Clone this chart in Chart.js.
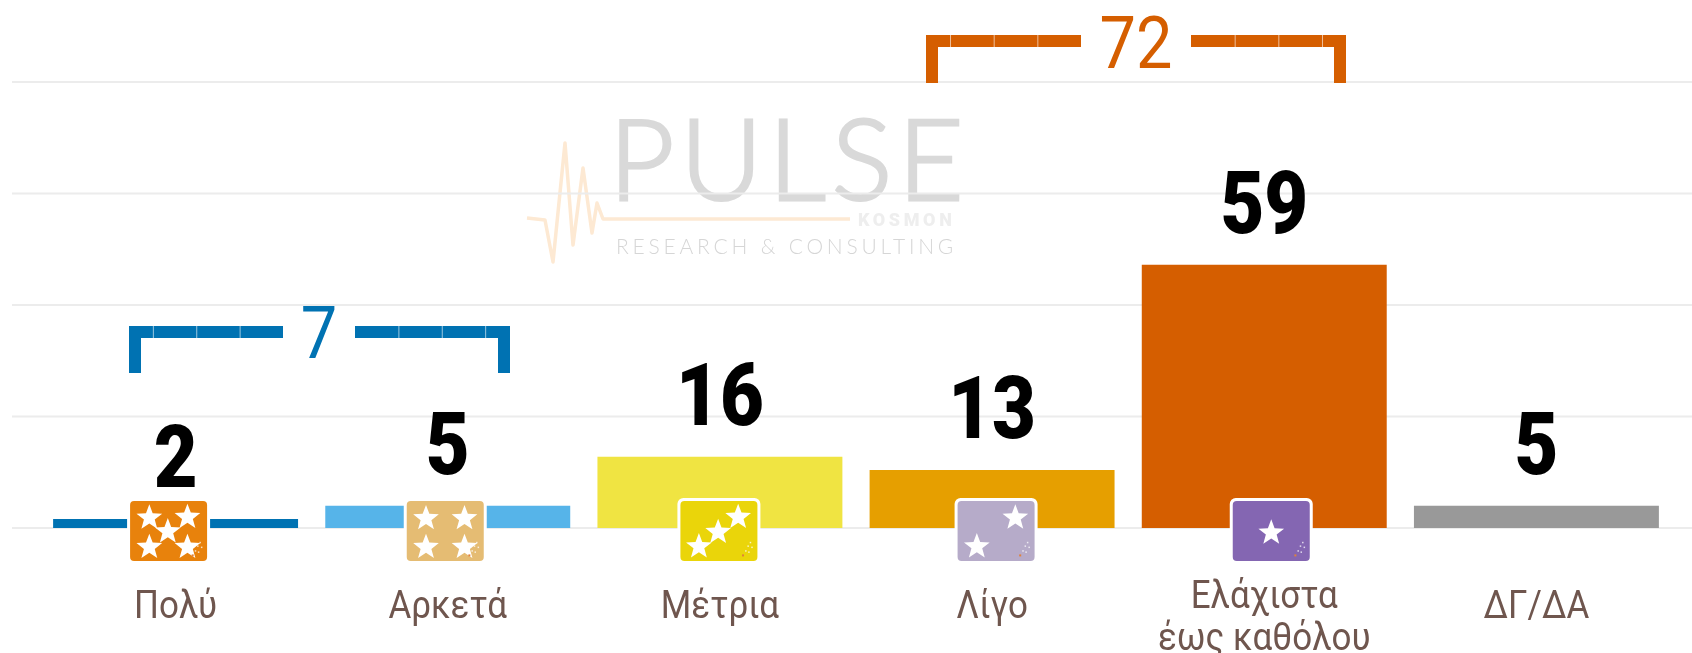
<!DOCTYPE html>
<html>
<head>
<meta charset="utf-8">
<style>
  html, body { margin: 0; padding: 0; background: #fff; }
  canvas { display: block; }
</style>
<script src="https://cdn.jsdelivr.net/npm/chart.js@4"></script>
</head>
<body>
<canvas id="chart" width="1692" height="653"></canvas>
<script>
const categories = ["Πολύ", "Αρκετά", "Μέτρια", "Λίγο", ["Ελάχιστα", "έως καθόλου"], "ΔΓ/ΔΑ"];
const values = [2, 5, 16, 13, 59, 5];
const barColors = ["#0072b2", "#56b4e9", "#f0e442", "#e69f00", "#d55e00", "#999999"];
const yTicks = [0, 25, 50, 75, 100];
const groupLabels = ["7", "72"];
const groupColors = ["#0072b2", "#d55e00"];
const badgeColors = ["#e8820c", "#e5bc73", "#ead50a", "#b6abc9", "#8466b2"];

const TICK_COLOR = "#6f564e";

// text squeezed sideways, the original uses a condensed face we don't have
function squeezedText(ctx, text, x, y, font, color, sx, align) {
  ctx.save();
  ctx.font = font;
  ctx.fillStyle = color;
  ctx.textAlign = align || "center";
  ctx.textBaseline = "alphabetic";
  ctx.translate(x, y);
  ctx.scale(sx, 1);
  ctx.fillText(text, 0, 0);
  ctx.restore();
}

function star(ctx, cx, cy, r) {
  ctx.beginPath();
  for (let i = 0; i < 10; i++) {
    const rad = i % 2 ? r * 0.42 : r;
    const a = -Math.PI / 2 + i * Math.PI / 5;
    ctx.lineTo(cx + rad * Math.cos(a), cy + rad * Math.sin(a));
  }
  ctx.closePath();
  ctx.fill();
}

function drawWatermark(ctx) {
  // pulse line
  ctx.save();
  ctx.strokeStyle = "#fde9d3";
  ctx.lineWidth = 3.5;
  ctx.lineJoin = "round";
  ctx.beginPath();
  [[527, 218], [545, 220], [553, 262], [565, 143], [573, 245], [583, 168], [592, 233], [597, 203], [603, 219], [850, 219]]
    .forEach((p) => ctx.lineTo(p[0], p[1]));
  ctx.stroke();
  ctx.restore();

  ctx.save();
  ctx.letterSpacing = "6px";
  ctx.strokeStyle = "#d9d9d9";
  ctx.lineWidth = 3;
  ctx.font = "300 113px Lato";
  ctx.textAlign = "left";
  ctx.strokeText("PULSE", 609, 200);
  squeezedText(ctx, "PULSE", 609, 200, "300 113px Lato", "#d9d9d9", 1, "left");
  ctx.letterSpacing = "3.6px";
  squeezedText(ctx, "KOSMON", 858, 226, "900 18px Roboto", "#eeeeee", 1, "left");
  ctx.letterSpacing = "3.8px";
  squeezedText(ctx, "RESEARCH & CONSULTING", 616, 254, "300 21px Lato", "#d6d6d6", 1, "left");
  ctx.restore();
}

function drawBracket(ctx, b) {
  ctx.fillStyle = b.color;
  const w = 12;
  ctx.fillRect(b.x0, b.top, b.gapL - b.x0, w);
  ctx.fillRect(b.gapR, b.top, b.x1 - b.gapR, w);
  ctx.fillRect(b.x0, b.top, w, b.bottom - b.top);
  ctx.fillRect(b.x1 - w, b.top, w, b.bottom - b.top);
  // thin seams between the dashes
  ctx.fillStyle = "rgba(255,255,255,0.6)";
  const seg = (b.gapL - b.x0) / 3.55;
  for (let i = 0; i < 3; i++) {
    ctx.fillRect(b.gapL - seg * (i + 1), b.top, 1, w);
    ctx.fillRect(b.gapR + seg * (i + 1), b.top, 1, w);
  }
  squeezedText(ctx, b.label, b.labelX, b.labelY, "400 72px Roboto", b.color, 0.9);
}

const badgeStars = [
  [[.25, .28], [.745, .27], [.49, .51], [.25, .77], [.745, .77]],
  [[.25, .29], [.75, .29], [.25, .77], [.75, .77]],
  [[.24, .76], [.49, .52], [.75, .27]],
  [[.25, .76], [.75, .28]],
  [[.5, .53]],
];
const badgeOffsets = [-7, -2.5, -1, 4, 7];

function drawBadge(ctx, cx, i) {
  const w = 77, h = 60, top = 501, left = cx - w / 2;
  ctx.fillStyle = "#ffffff";
  ctx.beginPath();
  ctx.roundRect(left - 3, top - 3, w + 6, h + 4, 6);
  ctx.fill();
  ctx.fillStyle = badgeColors[i];
  ctx.beginPath();
  ctx.roundRect(left, top, w, h, 4);
  ctx.fill();
  ctx.fillStyle = "#ffffff";
  badgeStars[i].forEach((s) => star(ctx, left + s[0] * w, top + s[1] * h, 13.5));
  // little sprig in the corner
  ctx.fillStyle = "rgba(255,255,255,0.75)";
  [[.9, .68], [.87, .74], [.92, .76], [.84, .82], [.88, .84]].forEach((d) => {
    ctx.fillRect(left + d[0] * w, top + d[1] * h, 1.5, 1.5);
  });
  ctx.fillStyle = "#e0813a";
  ctx.fillRect(left + .8 * w, top + .89 * h, 2, 2);
}

const decorPlugin = {
  id: "decor",
  beforeDatasetsDraw(chart) {
    const { ctx, scales } = chart;
    drawWatermark(ctx);
    // grid runs wider than the plot area
    ctx.fillStyle = "#ececec";
    yTicks.forEach((t) => {
      const y = scales.y.getPixelForValue(t);
      ctx.fillRect(12, y - 1, chart.width - 12, 2);
    });
  },
  afterDatasetsDraw(chart) {
    const { ctx, scales } = chart;
    const px = (i) => scales.x.getPixelForValue(i);

    values.forEach((v, i) => {
      const top = scales.y.getPixelForValue(v);
      squeezedText(ctx, String(v), px(i), top - 32, "900 87px Roboto", "#000000", 0.87);
    });

    badgeColors.forEach((c, i) => drawBadge(ctx, px(i) + badgeOffsets[i], i));

    categories.forEach((c, i) => {
      if (Array.isArray(c)) {
        squeezedText(ctx, c[0], px(i), 608, "400 38px Roboto", TICK_COLOR, 0.92);
        squeezedText(ctx, c[1], px(i), 650, "400 38px Roboto", TICK_COLOR, 0.92);
      } else {
        squeezedText(ctx, c, px(i), 618, "400 38px Roboto", TICK_COLOR, 0.92);
      }
    });

    drawBracket(ctx, { x0: 129, x1: 510, gapL: 283, gapR: 355, top: 326, bottom: 373,
      label: groupLabels[0], labelX: 319, labelY: 358, color: groupColors[0] });
    drawBracket(ctx, { x0: 926, x1: 1346, gapL: 1081, gapR: 1191, top: 35, bottom: 83,
      label: groupLabels[1], labelX: 1136, labelY: 68, color: groupColors[1] });
  },
};

new Chart(document.getElementById("chart"), {
  type: "bar",
  data: {
    labels: categories,
    datasets: [{
      data: values,
      backgroundColor: barColors,
      barPercentage: 0.9,
      categoryPercentage: 1,
    }],
  },
  options: {
    responsive: false,
    animation: false,
    layout: { padding: { top: 82, bottom: 117, left: 31.5, right: 19.5 } },
    plugins: { legend: { display: false }, tooltip: { enabled: false } },
    scales: {
      x: { grid: { display: false }, border: { display: false }, ticks: { display: false } },
      y: {
        min: 0,
        max: 100,
        grid: { display: false },
        border: { display: false },
        ticks: { display: false, stepSize: 25 },
      },
    },
  },
  plugins: [decorPlugin],
});
</script>
</body>
</html>
